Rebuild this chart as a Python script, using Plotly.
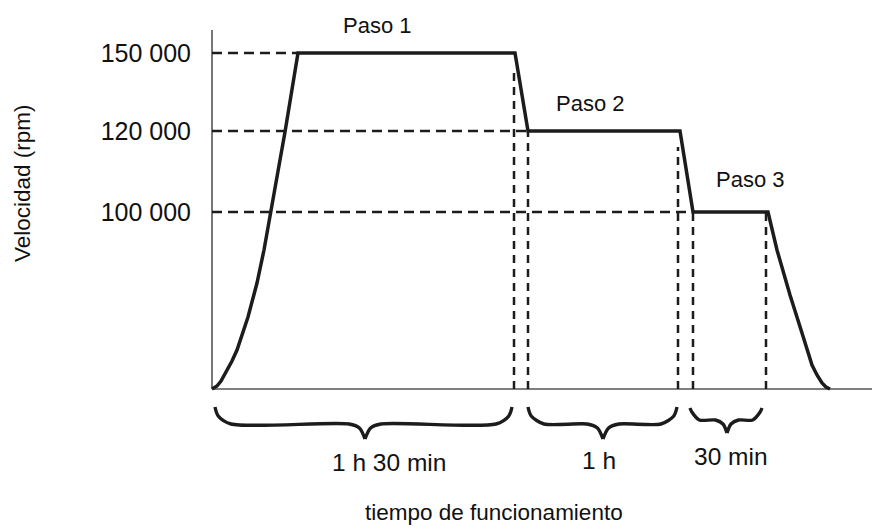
import plotly.graph_objs as go

# perfil de velocidad (esquema): tiempo en unidades del dibujo, velocidad en unidades del dibujo
tiempo = [0, 2, 5, 9, 15, 20, 25, 30, 36, 45, 52, 68, 73, 86, 303, 316, 468, 481, 556, 565, 578, 590, 600, 605, 610, 614, 618]
velocidad = [0, 1, 3, 8, 19, 28, 39, 53, 72, 106, 139, 229, 257, 336, 336, 258, 258, 177, 177, 139, 94, 56, 24, 14, 6, 2, 0]

# niveles del eje y y sus etiquetas
niveles = [336, 258, 177]
etiquetas = ['150 000', '120 000', '100 000']

# lineas de referencia discontinuas
guia_h_nivel = [336, 258, 177]
guia_h_fin = [86, 316, 481]
guia_v_x = [302, 316, 466, 481, 554]
guia_v_alto = [321, 258, 242, 177, 177]

# etiquetas de pasos
pasos = ['Paso 1', 'Paso 2', 'Paso 3']
pasos_x = [165, 378, 538]
pasos_y = [364, 286, 209]

# llaves de duracion
llave_ini = [3, 316, 478]
llave_fin = [300, 465, 550]
llave_punta = [153, 391, 515]
duraciones = ['1 h 30 min', '1 h', '30 min']
duracion_x = [177, 387, 519]
duracion_y = [-73, -71, -67]

FONT = 'Liberation Sans, Arial, sans-serif'
NEGRO = '#1c1c1c'

# area de trazado: 1 unidad = 1 px
Y0, Y1 = -70, 362
L, T = 210, 27


def papel_y(v):
    return (v - Y0) / (Y1 - Y0)


fig = go.Figure()

# ejes dibujados a mano
fig.add_trace(go.Scatter(x=[0, 0], y=[0, 359], mode='lines',
                         line=dict(color='#555', width=1.6), hoverinfo='skip'))
fig.add_trace(go.Scatter(x=[0, 660], y=[0, 0], mode='lines',
                         line=dict(color='#555', width=1.6), hoverinfo='skip'))

# guias horizontales
for lv, fin in zip(guia_h_nivel, guia_h_fin):
    fig.add_trace(go.Scatter(x=[0, fin], y=[lv, lv], mode='lines',
                             line=dict(color=NEGRO, width=2.5, dash='10px,6px'), hoverinfo='skip'))
# guias verticales
for xv, alto in zip(guia_v_x, guia_v_alto):
    fig.add_trace(go.Scatter(x=[xv, xv], y=[0, alto], mode='lines',
                             line=dict(color=NEGRO, width=2.5, dash='8px,6px'), hoverinfo='skip'))

# curva de velocidad
fig.add_trace(go.Scatter(x=tiempo, y=velocidad, mode='lines',
                         line=dict(color=NEGRO, width=3.5), hoverinfo='skip'))

# llaves
for x0, x1, xc in zip(llave_ini, llave_fin, llave_punta):
    w = x1 - x0
    d = min(16, w * 0.13)
    c = min(16, w * 0.16)
    yt, ym, yp = -18, -35, -50
    if w < 100:
        yt, ym, yp = -19, -31, -44
    bx = [x0, x0 + d * 0.2, x0 + d, xc - c, xc - c * 0.35, xc, None,
          xc, xc + c * 0.35, xc + c, x1 - d, x1 - d * 0.2, x1]
    by = [yt, ym + 8, ym, ym, ym - 4, yp, None,
          yp, ym - 4, ym, ym, ym + 8, yt]
    fig.add_trace(go.Scatter(x=bx, y=by, mode='lines', connectgaps=False,
                             line=dict(color=NEGRO, width=3.4, shape='spline', smoothing=0.8),
                             hoverinfo='skip'))

for txt, px, py in zip(pasos, pasos_x, pasos_y):
    fig.add_annotation(x=px, y=papel_y(py), yref='paper', text=txt, showarrow=False,
                       xanchor='center', yanchor='middle',
                       font=dict(family=FONT, size=22, color='#111'))
for txt, px, py in zip(duraciones, duracion_x, duracion_y):
    fig.add_annotation(x=px, y=papel_y(py), yref='paper', text=txt, showarrow=False,
                       xanchor='center', yanchor='middle',
                       font=dict(family=FONT, size=24.5, color='#111'))

fig.add_annotation(x=282, y=papel_y(-123), yref='paper', text='tiempo de funcionamiento',
                   showarrow=False, xanchor='center', yanchor='middle',
                   font=dict(family=FONT, size=22.5, color='#111'))
fig.add_annotation(x=(22 - L) / 662, xref='paper', y=206, text='Velocidad (rpm)', textangle=-90,
                   showarrow=False, xanchor='center', yanchor='middle',
                   font=dict(family=FONT, size=22.5, color='#111'))

fig.update_layout(width=875, height=531, showlegend=False,
                  margin=dict(l=L, r=3, t=T, b=72),
                  plot_bgcolor='white', paper_bgcolor='white',
                  font=dict(family=FONT, color='#111'))
fig.update_xaxes(range=[-2, 660], showgrid=False, zeroline=False,
                 showticklabels=False, ticks='', showline=False)
fig.update_yaxes(range=[Y0, Y1], showgrid=False, zeroline=False, showline=False,
                 tickvals=niveles, ticktext=etiquetas, ticks='',
                 ticklabelstandoff=18, tickfont=dict(family=FONT, size=25, color='#111'))

# sin margen del body para que la figura empiece en (0, 0)
fig.write_html('out.html', config={'displayModeBar': False},
               post_script="document.body.style.margin='0';")
